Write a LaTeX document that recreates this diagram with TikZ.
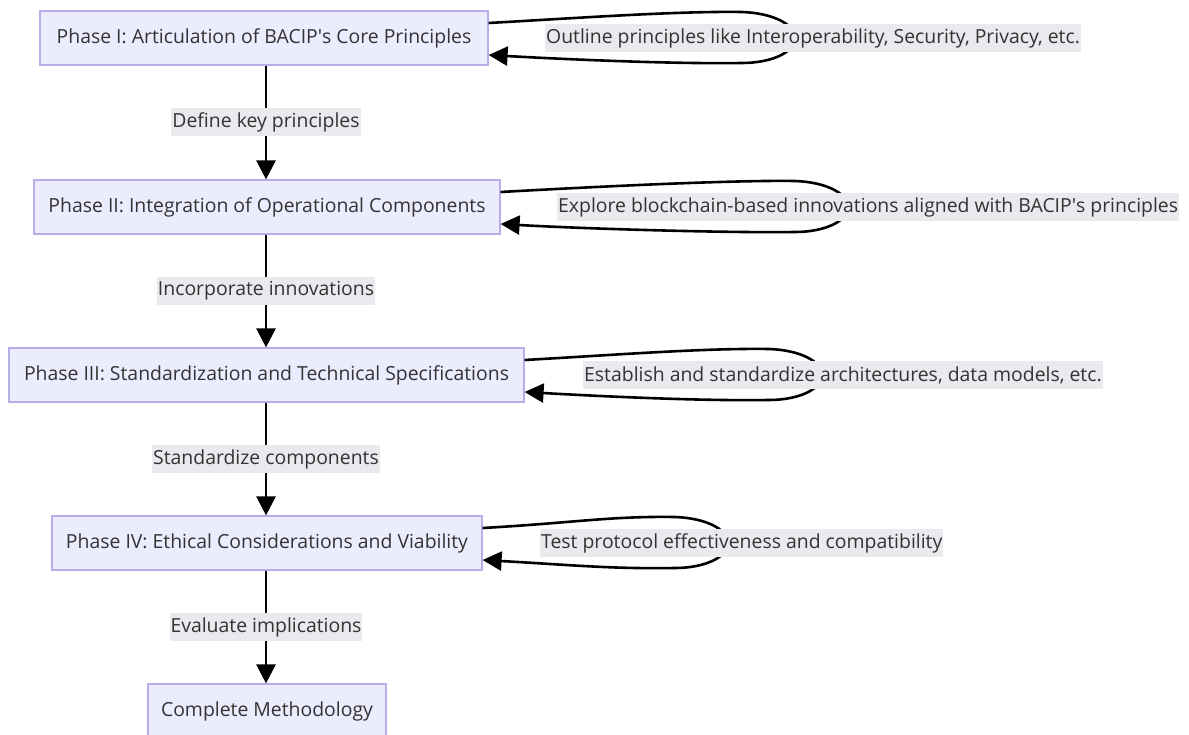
\documentclass[tikz,border=0pt]{standalone}
\usepackage{fontspec}
\setmainfont{Open Sans}
\usetikzlibrary{arrows.meta,calc}
\definecolor{nodefill}{HTML}{ECECFF}
\definecolor{nodedraw}{HTML}{B6ADEA}
\definecolor{txt}{HTML}{333333}
\definecolor{lblbg}{HTML}{E9E9EE}
\tikzset{
  box/.style={draw=nodedraw, fill=nodefill, line width=1.2pt, minimum height=54pt, inner sep=0pt, text=txt, font=\fontsize{19.4}{22}\selectfont},
  elabel/.style={fill=lblbg, text=txt, inner sep=1pt, minimum height=28pt, font=\fontsize{19.4}{22}\selectfont},
  edge/.style={line width=2.6pt, black, -{Triangle[length=19pt,width=19pt]}},
}
\newcommand\myloop[4]{%
  \draw[edge] ([yshift=15pt]#1.east)
    .. controls (#4+90,#2-20) and (#3-110,#2-27) .. (#3-45,#2-26)
    .. controls (#3-15,#2-25) and (#3+8,#2-14) .. (#3+8,#2)
    .. controls (#3+8,#2+14) and (#3-15,#2+25) .. (#3-45,#2+25)
    .. controls (#3-110,#2+26) and (#4+90,#2+22) .. ([yshift=-17pt]#1.east);
}
\begin{document}
\begin{tikzpicture}[x=1pt,y=-1pt]
\useasboundingbox (0,0) rectangle (1189,735);
\node[box, minimum width=448pt] (n1) at (264,38) {Phase I: Articulation of BACIP\textquotesingle s Core Principles};
\node[box, minimum width=466pt] (n2) at (267,207) {Phase II: Integration of Operational Components};
\node[box, minimum width=515pt] (n3) at (266.5,375) {Phase III: Standardization and Technical Specifications};
\node[box, minimum width=430pt] (n4) at (267,543) {Phase IV: Ethical Considerations and Viability};
\node[box, minimum width=238pt] (n5) at (267,711) {Complete Methodology};

\draw[edge] (n1.south -| 266,0) -- node[elabel] (e1) {Define key principles} (n2.north -| 266,0);
\draw[edge] (n2.south -| 266,0) -- node[elabel] (e2) {Incorporate innovations} (n3.north -| 266,0);
\draw[edge] (n3.south -| 266,0) -- node[elabel] (e3) {Standardize components} (n4.north -| 266,0);
\draw[edge] (n4.south -| 266,0) -- node[elabel] (e4) {Evaluate implications} (n5.north -| 266,0);

\myloop{n1}{38}{787}{488}
\myloop{n2}{207}{840}{500}
\myloop{n3}{375}{814}{524}
\myloop{n4}{543}{720}{482}

\node[elabel, anchor=west] (l1) at (545,38) {Outline principles like Interoperability, Security, Privacy, etc.};
\node[elabel, anchor=west] (l2) at (557,207) {Explore blockchain-based innovations aligned with BACIP\textquotesingle s principles};
\node[elabel, anchor=west] (l3) at (583,375) {Establish and standardize architectures, data models, etc.};
\node[elabel, anchor=west] (l4) at (540,543) {Test protocol effectiveness and compatibility};
\end{tikzpicture}
\end{document}
